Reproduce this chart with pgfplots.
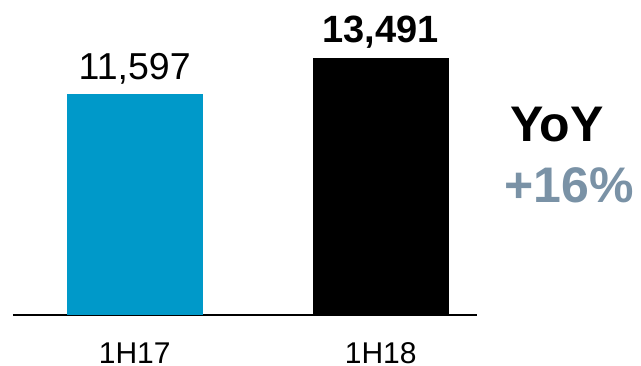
\documentclass[border=0pt]{standalone}
\usepackage{fontspec}
\setmainfont{Liberation Sans}
\usepackage{pgfplots}
\pgfplotsset{compat=1.18}
\definecolor{barblue}{RGB}{0,153,201}
\definecolor{yoygrey}{RGB}{122,146,166}
\begin{document}
\begin{tikzpicture}[x=1pt,y=1pt]
\begin{axis}[
  at={(13pt,51pt)}, anchor=south west,
  scale only axis, width=464pt, height=315pt,
  xmin=-0.4947, xmax=1.3915, ymin=0, ymax=16516,
  axis x line=bottom, axis y line=none,
  x axis line style={-, line width=2pt},
  xtick={0,1}, xticklabels={1H17,1H18},
  major tick length=0pt,
  xticklabel style={anchor=base, yshift=-48.5pt, font=\fontsize{30}{32}\selectfont, inner sep=0pt, text depth=0pt},
  ytick=\empty,
  ybar, bar width=136pt, bar shift=0pt,
  clip=false,
  point meta=explicit symbolic,
  nodes near coords,
]
\addplot[fill=barblue, draw=none,
  every node near coord/.append style={anchor=base, yshift=14pt, inner sep=0pt, font=\fontsize{37.5}{40}\selectfont}]
  coordinates {(0,11597) [11,597]};
\addplot[fill=black, draw=none,
  every node near coord/.append style={anchor=base, yshift=15pt, inner sep=0pt, font=\bfseries\fontsize{38}{40}\selectfont}]
  coordinates {(1,13491) [13,491]};
\end{axis}
\node[anchor=base west, inner sep=0pt, font=\bfseries\fontsize{50}{52}\selectfont] at (510pt,224.3pt) {YoY};
\node[anchor=base west, inner sep=0pt, text=yoygrey, font=\bfseries\fontsize{50}{52}\selectfont] at (504.5pt,163.3pt) {+16\%};
\pgfresetboundingbox
\useasboundingbox (0,0) rectangle (641pt,366pt);
\end{tikzpicture}
\end{document}
